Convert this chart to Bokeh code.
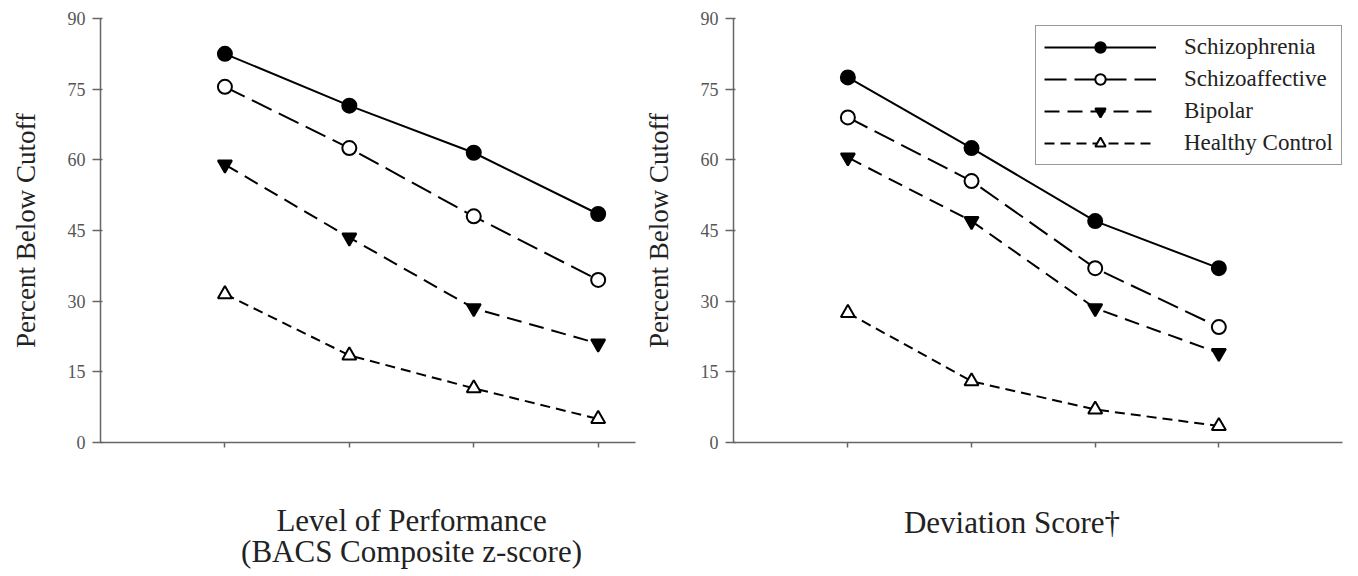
from bokeh.plotting import figure
from bokeh.models import Range1d, Legend, LegendItem, FixedTicker
from bokeh.core.properties import value
from bokeh.layouts import row, column
from bokeh.embed import file_html
from bokeh.resources import INLINE

# ---------------- data ----------------
x_levels = [1, 2, 3, 4]
groups = ["Schizophrenia", "Schizoaffective", "Bipolar", "Healthy Control"]

perf_schizophrenia = [82.5, 71.5, 61.5, 48.5]
perf_schizoaffective = [75.5, 62.5, 48.0, 34.5]
perf_bipolar = [59.0, 43.5, 28.5, 21.0]
perf_healthy = [31.5, 18.5, 11.5, 5.0]

dev_schizophrenia = [77.5, 62.5, 47.0, 37.0]
dev_schizoaffective = [69.0, 55.5, 37.0, 24.5]
dev_bipolar = [60.5, 47.0, 28.5, 19.0]
dev_healthy = [27.5, 13.0, 7.0, 3.5]

y_ticks = [0, 15, 30, 45, 60, 75, 90]
y_label = "Percent Below Cutoff"
left_xlabel = ["Level of Performance", "(BACS Composite z-score)"]
right_xlabel = ["Deviation Score\u2020"]

# ---------------- styles ----------------
SERIF = "Liberation Serif"
styles = {
    "Schizophrenia": dict(dash="solid", marker="circle", fill="black"),
    "Schizoaffective": dict(dash="22 8", marker="circle", fill="white"),
    "Bipolar": dict(dash="15 8", marker="inverted_triangle", fill="black"),
    "Healthy Control": dict(dash="10 6", marker="triangle", fill="white"),
}

MAIN_H = 456
LABEL_H = 118


def make_panel(series, x_range, width, border_left, border_right, with_legend):
    p = figure(width=width, height=MAIN_H, output_backend="svg",
               toolbar_location=None, x_range=x_range,
               y_range=Range1d(0, 90),
               min_border_left=border_left, min_border_right=border_right,
               min_border_top=18, min_border_bottom=14)
    p.outline_line_color = None
    p.grid.visible = False

    # y axis
    p.yaxis.ticker = FixedTicker(ticks=y_ticks)
    p.yaxis.minor_tick_line_color = None
    p.yaxis.major_tick_out = 8
    p.yaxis.major_tick_in = 2
    p.yaxis.axis_line_color = "#666666"
    p.yaxis.axis_line_width = 1.5
    p.yaxis.major_tick_line_color = "#666666"
    p.yaxis.major_tick_line_width = 1.5
    p.yaxis.major_label_text_font = SERIF
    p.yaxis.major_label_text_font_size = "18px"
    p.yaxis.major_label_text_color = "#555555"
    p.yaxis.major_label_standoff = 7
    p.yaxis.axis_label = y_label
    p.yaxis.axis_label_text_font = SERIF
    p.yaxis.axis_label_text_font_size = "27px"
    p.yaxis.axis_label_text_font_style = "normal"
    p.yaxis.axis_label_text_color = "#222222"
    p.yaxis.axis_label_standoff = 24

    # x axis (ticks only, no tick labels)
    p.xaxis.ticker = FixedTicker(ticks=x_levels)
    p.xaxis.minor_tick_line_color = None
    p.xaxis.major_tick_out = 5
    p.xaxis.major_tick_in = 0
    p.xaxis.axis_line_color = "#666666"
    p.xaxis.axis_line_width = 1.5
    p.xaxis.major_tick_line_color = "#666666"
    p.xaxis.major_tick_line_width = 1.5
    p.xaxis.major_label_overrides = {t: "" for t in x_levels}

    items = []
    for name in groups:
        st = styles[name]
        ys = series[name]
        ln = p.line(x_levels, ys, line_color="black", line_width=2,
                    line_dash=st["dash"])
        sc = p.scatter(x_levels, ys, marker=st["marker"], size=14,
                       fill_color=st["fill"], line_color="black",
                       line_width=2)
        items.append(LegendItem(label=name, renderers=[ln, sc]))

    if with_legend:
        lg = Legend(items=items, location=(302, 277))
        lg.margin = 0
        lg.padding = 8
        lg.spacing = 6
        lg.glyph_width = 112
        lg.glyph_height = 26
        lg.label_standoff = 28
        lg.label_text_font = SERIF
        lg.label_text_font_size = "23px"
        lg.label_text_color = "#222222"
        lg.border_line_color = "#333333"
        lg.border_line_width = 1.5
        lg.background_fill_alpha = 1.0
        p.add_layout(lg)
    return p


def make_xlabel(x_range, width, border_left, border_right, lines, xs, ys):
    q = figure(width=width, height=LABEL_H, output_backend="svg",
               toolbar_location=None, x_range=x_range,
               y_range=Range1d(0, LABEL_H),
               min_border_left=border_left, min_border_right=border_right,
               min_border_top=0, min_border_bottom=0)
    q.axis.visible = False
    q.grid.visible = False
    q.outline_line_color = None
    q.text(x=xs, y=ys, text=lines, text_align="center",
           text_baseline="alphabetic", text_font=value(SERIF),
           text_font_size="31px", text_color="#222222")
    return q


left_range = Range1d(0.0, 4.3)
right_range = Range1d(0.075, 5.0)

left = make_panel({
    "Schizophrenia": perf_schizophrenia,
    "Schizoaffective": perf_schizoaffective,
    "Bipolar": perf_bipolar,
    "Healthy Control": perf_healthy,
}, left_range, 640, 100, 5, False)

right = make_panel({
    "Schizophrenia": dev_schizophrenia,
    "Schizoaffective": dev_schizoaffective,
    "Bipolar": dev_bipolar,
    "Healthy Control": dev_healthy,
}, right_range, 710, 90, 8, True)

left_lab = make_xlabel(left_range, 640, 100, 5, left_xlabel,
                       [2.5, 2.5], [54, 23])
right_lab = make_xlabel(right_range, 710, 90, 8, right_xlabel,
                        [2.34], [52])

layout = column(row(left, right), row(left_lab, right_lab), spacing=0)
open("out.html", "w").write(file_html(layout, INLINE))
